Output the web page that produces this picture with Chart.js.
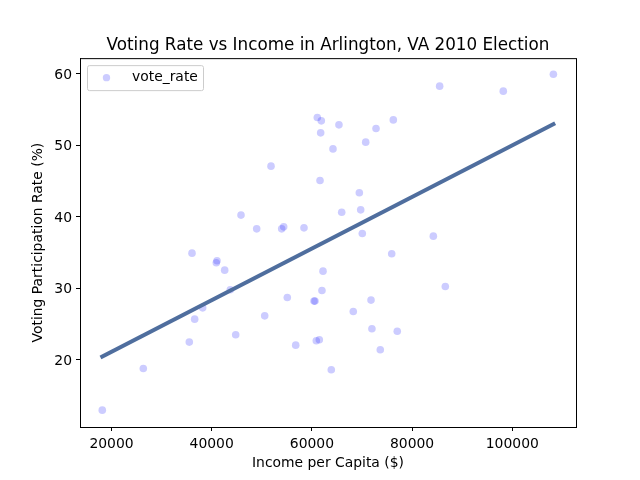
<!DOCTYPE html>
<html>
<head>
<meta charset="utf-8">
<style>
  html, body { margin: 0; padding: 0; background: #fff; }
  canvas { display: block; }
</style>
<script src="https://cdn.jsdelivr.net/npm/chart.js@4"></script>
</head>
<body>
<canvas id="scatter-chart" width="640" height="480"></canvas>
<script>
const income_per_capita = [
  61080, 61880, 61750, 51840, 61620, 45850, 48980, 53970, 54370, 58420, 64210,
  108200, 85500, 98200, 76250, 65400, 72800, 70740, 69470, 65950, 69740, 70060, 84240,
  36070, 41060, 40920, 42590, 62220, 62010, 43710, 55090, 60420, 60620, 38200,
  50580, 36600, 44790, 35530, 56770, 60880, 61480, 26350, 18160, 63870,
  75930, 86630, 71800, 68260, 71980, 77040, 73650,
];
const vote_rate = [
  53.9, 53.43, 51.75, 47.09, 45.08, 40.24, 38.32, 38.32, 38.6, 38.46, 49.5,
  59.95, 58.28, 57.58, 53.56, 52.87, 52.35, 50.45, 43.36, 40.65, 40.98, 37.66, 37.3,
  34.92, 33.85, 33.57, 32.54, 32.4, 29.7, 29.79, 28.71, 28.21, 28.21, 27.27,
  26.15, 25.69, 23.5, 22.48, 22.05, 22.66, 22.8, 18.78, 12.96, 18.6,
  34.83, 30.25, 28.35, 26.76, 24.34, 24.0, 21.4,
];
const fit_income = [18160, 108200];
const fit_rate = [20.45, 52.95];
const x_ticks = [20000, 40000, 60000, 80000, 100000];
const y_ticks = [20, 30, 40, 50, 60];

const font_family = "'DejaVu Sans', sans-serif";

const scatter_points = income_per_capita.map((x, i) => ({ x: x, y: vote_rate[i] }));
const fit_points = fit_income.map((x, i) => ({ x: x, y: fit_rate[i] }));

// spines on all four sides plus the matplotlib style legend box
const frame_plugin = {
  id: "frame",
  afterDraw(chart) {
    const ctx = chart.ctx;
    const area = chart.chartArea;
    ctx.save();
    ctx.strokeStyle = "#000";
    ctx.lineWidth = 1;
    ctx.strokeRect(area.left + 0.5, area.top + 0.5, area.width, area.height);

    const left = area.left + 7.5;
    const top = area.top + 7.5;
    ctx.strokeStyle = "#ccc";
    ctx.fillStyle = "rgba(255, 255, 255, 0.8)";
    ctx.beginPath();
    ctx.roundRect(left, top, 116, 25, 2);
    ctx.fill();
    ctx.stroke();

    ctx.fillStyle = "rgba(0, 0, 255, 0.2)";
    ctx.beginPath();
    ctx.arc(left + 19, top + 12, 3.7, 0, Math.PI * 2);
    ctx.fill();

    ctx.fillStyle = "#000";
    ctx.font = "13.9px " + font_family;
    ctx.textBaseline = "middle";
    ctx.fillText(chart.data.datasets[1].label, left + 44.5, top + 12);
    ctx.restore();
  },
};

const scatter_config = {
  type: "scatter",
  data: {
    datasets: [
      {
        label: "fit",
        data: fit_points,
        showLine: true,
        borderColor: "#4f6e9e",
        borderWidth: 4,
        borderCapStyle: "square",
        pointRadius: 0,
      },
      {
        label: "vote_rate",
        data: scatter_points,
        backgroundColor: "rgba(0, 0, 255, 0.2)",
        borderWidth: 0,
        pointRadius: 3.8,
      },
    ],
  },
  options: {
    responsive: false,
    animation: false,
    devicePixelRatio: 1,
    layout: { padding: { top: 36, right: 64, bottom: 0, left: 0 } },
    plugins: {
      legend: { display: false },
      tooltip: { enabled: false },
      title: {
        display: true,
        text: "Voting Rate vs Income in Arlington, VA 2010 Election",
        color: "#000",
        fullSize: false,
        font: { family: font_family, size: 16.78, weight: "normal" },
        padding: { top: 0, bottom: 2 },
      },
    },
    scales: {
      x: {
        type: "linear",
        min: 13713,
        max: 112715,
        afterFit: (scale) => { scale.height = 53; },
        afterBuildTicks: (scale) => { scale.ticks = x_ticks.map((v) => ({ value: v })); },
        grid: { drawOnChartArea: false, tickLength: 4, tickColor: "#000" },
        border: { color: "#000" },
        ticks: {
          autoSkip: false,
          maxRotation: 0,
          color: "#000",
          padding: 5,
          font: { family: font_family, size: 13.9 },
          callback: (value) => String(value),
        },
        title: {
          display: true,
          text: "Income per Capita ($)",
          color: "#000",
          font: { family: font_family, size: 13.9 },
          padding: { top: 0, bottom: 8 },
        },
      },
      y: {
        type: "linear",
        min: 10.6,
        max: 62.2,
        afterFit: (scale) => { scale.width = 80; },
        afterBuildTicks: (scale) => { scale.ticks = y_ticks.map((v) => ({ value: v })); },
        grid: { drawOnChartArea: false, tickLength: 4, tickColor: "#000" },
        border: { color: "#000" },
        ticks: {
          autoSkip: false,
          color: "#000",
          padding: 4,
          labelOffset: 1.5,
          font: { family: font_family, size: 13.9 },
        },
        title: {
          display: true,
          text: "Voting Participation Rate (%)",
          color: "#000",
          font: { family: font_family, size: 13.9 },
          padding: { top: 30, bottom: 0 },
        },
      },
    },
  },
  plugins: [frame_plugin],
};

const ctx = document.getElementById("scatter-chart").getContext("2d");
const scatter_chart = new Chart(ctx, scatter_config);
</script>
</body>
</html>
